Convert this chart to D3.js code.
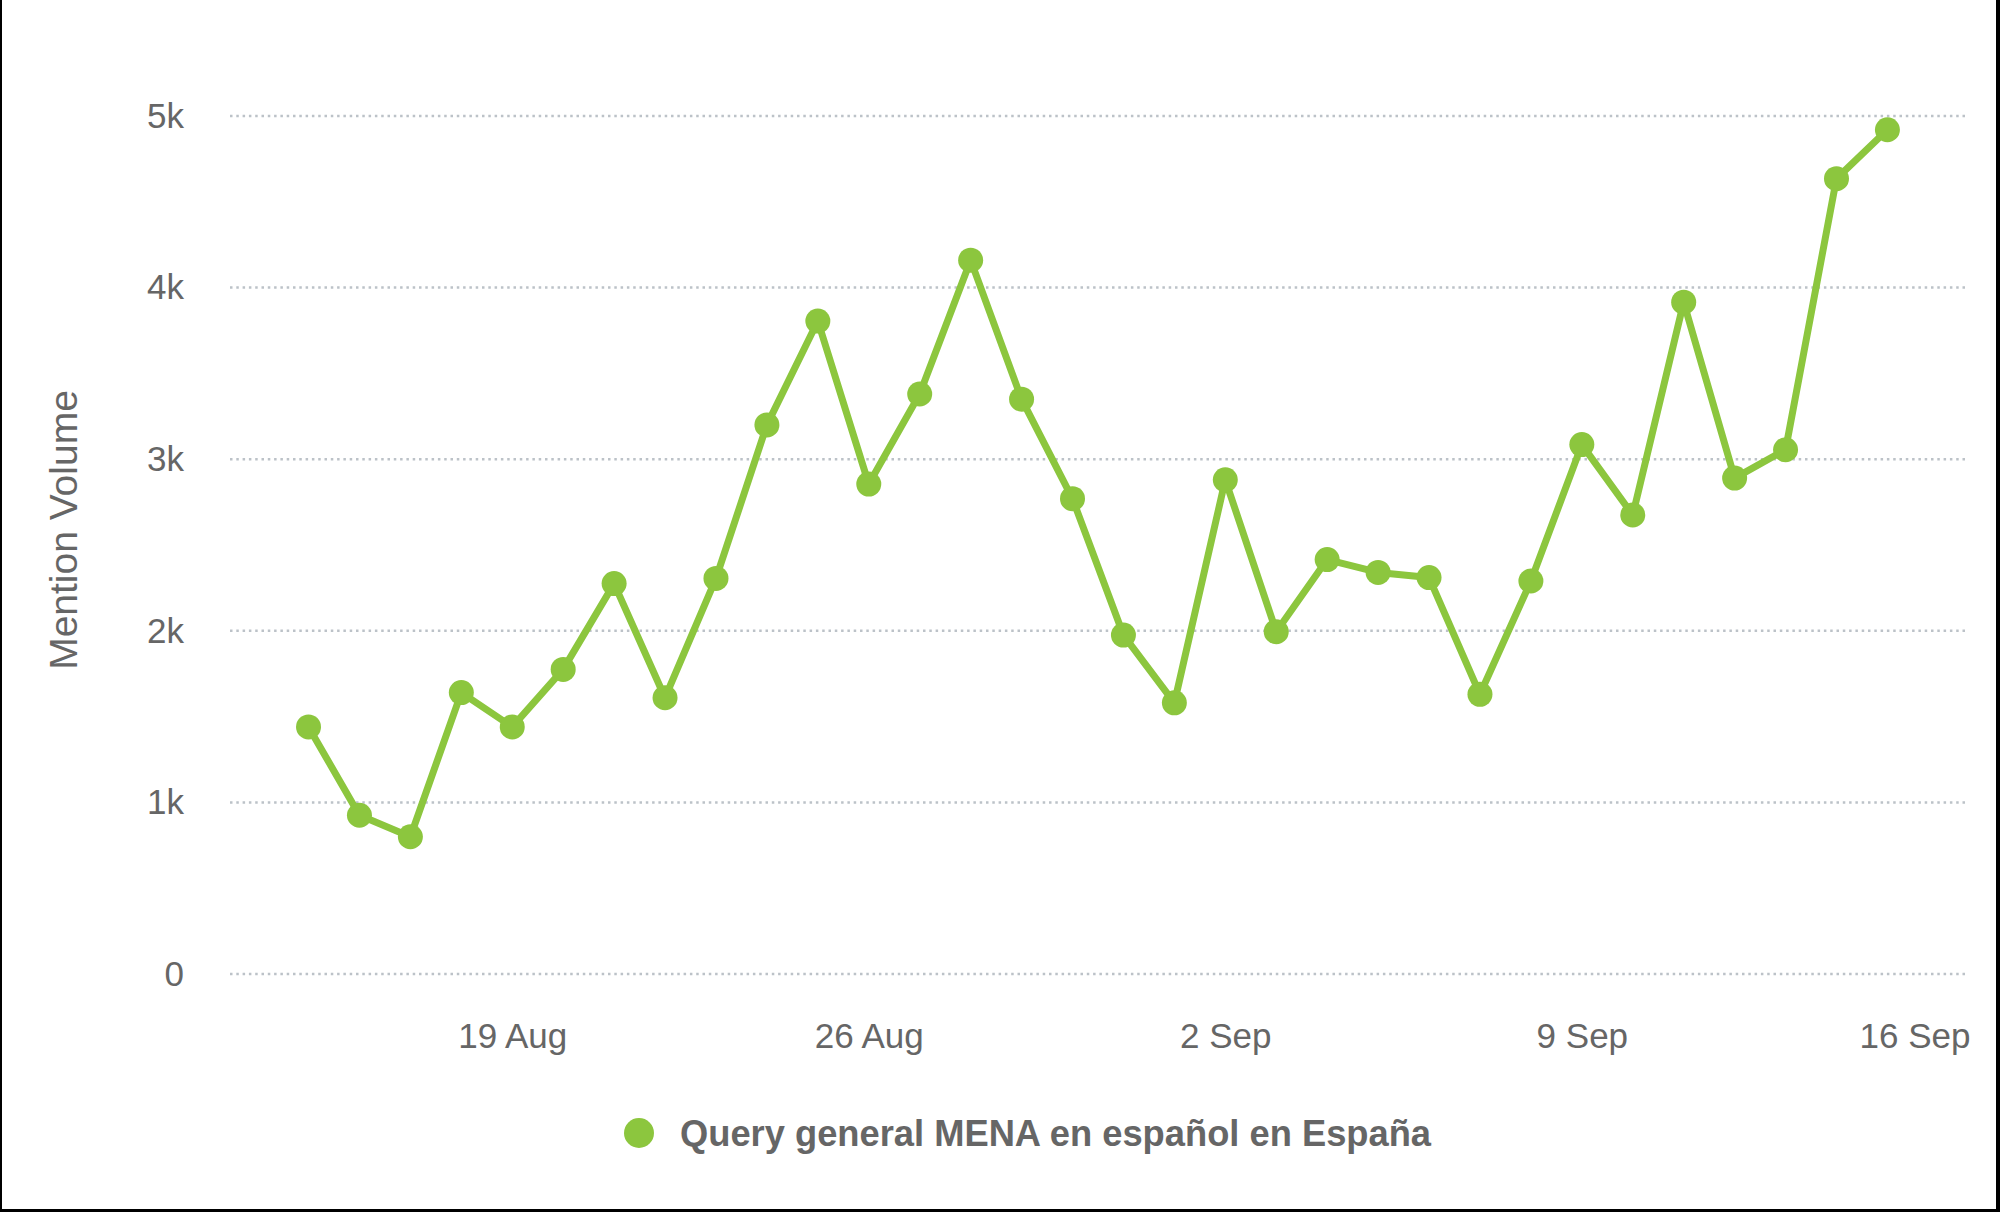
<!DOCTYPE html>
<html>
<meta charset="utf-8">
<style>
  body { margin: 0; background: #fff; }
  text { font-family: "Liberation Sans", Arial, sans-serif; }
</style>

<script src="https://d3js.org/d3.v7.min.js"></script>

<div id="chart_div"></div>

<script>

var dates = ["2024-08-15", "2024-08-16", "2024-08-17", "2024-08-18", "2024-08-19", "2024-08-20",
  "2024-08-21", "2024-08-22", "2024-08-23", "2024-08-24", "2024-08-25", "2024-08-26",
  "2024-08-27", "2024-08-28", "2024-08-29", "2024-08-30", "2024-08-31", "2024-09-01",
  "2024-09-02", "2024-09-03", "2024-09-04", "2024-09-05", "2024-09-06", "2024-09-07",
  "2024-09-08", "2024-09-09", "2024-09-10", "2024-09-11", "2024-09-12", "2024-09-13",
  "2024-09-14", "2024-09-15"]
var mentions = [1440, 925, 800, 1640, 1440, 1775, 2275, 1610, 2305, 3200, 3805, 2855,
  3380, 4160, 3350, 2770, 1975, 1580, 2880, 1995, 2415, 2340, 2310, 1630,
  2290, 3085, 2675, 3915, 2890, 3055, 4635, 4920]
var yTicks = [0, 1000, 2000, 3000, 4000, 5000]
var seriesName = "Query general MENA en español en España"
var yTitle = "Mention Volume"

var width = 2000, height = 1212
var plot = {left: 230, right: 1967, top: 116, bottom: 974}
var green = "#8cc63e", grey = "#666666"

var svg = d3.select("#chart_div")
.append("svg")
  .attr("width", width)
  .attr("height", height)

// frame (left, right, bottom)
svg.append("rect").attr("x", 0).attr("y", 0).attr("width", 2).attr("height", height).attr("fill", "#000")
svg.append("rect").attr("x", 1996).attr("y", 0).attr("width", 4).attr("height", height).attr("fill", "#000")
svg.append("rect").attr("x", 0).attr("y", 1209).attr("width", width).attr("height", 3).attr("fill", "#000")

var parse = d3.utcParse("%Y-%m-%d")
var data = dates.map(function(d, i) { return {date: parse(d), value: mentions[i]} })

var x = d3.scaleUtc()
  .domain([new Date(Date.UTC(2024, 7, 13, 11)), new Date(Date.UTC(2024, 8, 16, 13, 30))])
  .range([plot.left, plot.right])

var y = d3.scaleLinear()
  .domain([0, 5000])
  .range([plot.bottom, plot.top])

// grid
svg.append("g")
  .selectAll("line")
  .data(yTicks)
  .enter()
  .append("line")
    .attr("x1", plot.left)
    .attr("x2", plot.right)
    .attr("y1", function(d) { return y(d) })
    .attr("y2", function(d) { return y(d) })
    .attr("stroke", "#bcc2c8")
    .attr("stroke-width", 2.5)
    .attr("stroke-dasharray", "2.5,3.8")

var yAxis = svg.append("g")
  .attr("transform", "translate(" + plot.left + ",0)")
  .call(d3.axisLeft(y)
    .tickValues(yTicks)
    .tickSize(0)
    .tickPadding(46)
    .tickFormat(function(d) { return d === 0 ? "0" : (d / 1000) + "k" }))
yAxis.select(".domain").remove()
yAxis.selectAll("text")
  .attr("font-size", 35)
  .attr("fill", grey)
  .attr("font-family", "Liberation Sans, Arial, sans-serif")

var xAxis = svg.append("g")
  .attr("transform", "translate(0," + plot.bottom + ")")
  .call(d3.axisBottom(x)
    .ticks(d3.utcMonday.every(1))
    .tickSize(0)
    .tickPadding(49)
    .tickFormat(d3.utcFormat("%-d %b")))
xAxis.select(".domain").remove()
xAxis.selectAll("text")
  .attr("font-size", 35)
  .attr("fill", grey)
  .attr("font-family", "Liberation Sans, Arial, sans-serif")
  .each(function(d) {
    var w = this.getComputedTextLength()
    if (x(d) + w / 2 > 1970) {
      d3.select(this).attr("text-anchor", "end").attr("x", 1970 - x(d))
    }
  })

svg.append("text")
  .attr("transform", "translate(77,530) rotate(-90)")
  .attr("text-anchor", "middle")
  .attr("font-size", 39)
  .attr("fill", grey)
  .text(yTitle)

var line = d3.line()
  .x(function(d) { return x(d.date) })
  .y(function(d) { return y(d.value) })

svg.append("path")
  .datum(data)
  .attr("fill", "none")
  .attr("stroke", green)
  .attr("stroke-width", 7)
  .attr("stroke-linejoin", "round")
  .attr("d", line)

svg.selectAll(".dot")
  .data(data)
  .enter()
  .append("circle")
    .attr("class", "dot")
    .attr("cx", function(d) { return x(d.date) })
    .attr("cy", function(d) { return y(d.value) })
    .attr("r", 12.5)
    .attr("fill", green)

// legend
var legend = svg.append("g")
legend.append("circle")
  .attr("cx", 639)
  .attr("cy", 1133)
  .attr("r", 15)
  .attr("fill", green)
legend.append("text")
  .attr("x", 680)
  .attr("y", 1146)
  .attr("font-size", 36.3)
  .attr("font-weight", "bold")
  .attr("fill", grey)
  .text(seriesName)

</script>
</html>
